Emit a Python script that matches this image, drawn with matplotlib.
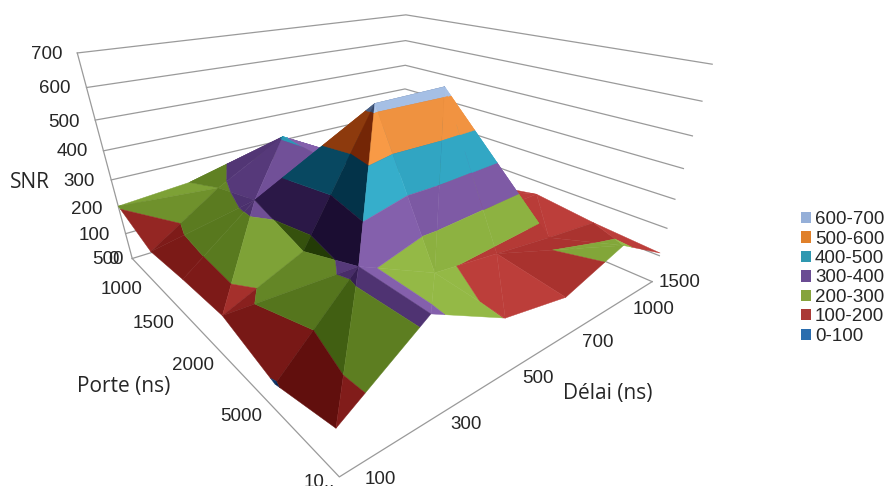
import numpy as np
import matplotlib
matplotlib.use("Agg")
import matplotlib.pyplot as plt
from matplotlib.colors import to_rgb
from matplotlib.patches import Patch
from mpl_toolkits.mplot3d.art3d import Poly3DCollection

porte_labels = ["500", "1000", "1500", "2000", "5000", "10.."]
delai_labels = ["100", "300", "500", "700", "1000", "1500"]
snr_ticks = [0, 100, 200, 300, 400, 500, 600, 700]

# SNR, rows = porte, columns = delai
snr = np.array([
    [205, 225, 250, 200, 150, 110],
    [135, 285, 405, 280, 180, 120],
    [150, 327, 395, 300, 170, 110],
    [158, 260, 620, 625, 150, 150],
    [95, 325, 210, 180, 150, 125],
    [148, 321, 195, 150, 225, 110],
], float)

band_labels = ["0-100", "100-200", "200-300", "300-400", "400-500", "500-600", "600-700"]
band_legend = ["#2A6DAE", "#AA3A36", "#86A33C", "#6A4C93", "#2F98B0", "#E0802A", "#95AFD8"]
band_face = ["#2A6DAE", "#BC3E3A", "#94B946", "#8460AC", "#36AECB", "#F89A46", "#AEC8EE"]

plt.rcParams['font.family'] = ['Liberation Sans', 'DejaVu Sans']

W, H = 893, 486

fig = plt.figure(figsize=(W / 100, H / 100), dpi=100)
ax = fig.add_axes([-35.8 / W, -234.0 / H, 831.7 / W, 831.7 / H], projection='3d')
# the limits are wider than the data: this moves the point the camera looks at
ax.set_xlim(-1.614, 5.484)
ax.set_ylim(5.285, 1.411)
ax.set_zlim(-722.665, 861.285)
ax.view_init(32.3196, -129.7151)
ax.set_proj_type('persp', focal_length=0.1315)
ax.set_box_aspect((1.8462, 1, 1.5879))
ax.set_axis_off()
ax.patch.set_alpha(0)
ax.computed_zorder = False


def clip(poly, level, keep_above):
    out = []
    for i in range(len(poly)):
        a, b = poly[i], poly[(i + 1) % len(poly)]
        ina = a[2] >= level if keep_above else a[2] <= level
        inb = b[2] >= level if keep_above else b[2] <= level
        if ina:
            out.append(a)
        if ina != inb:
            t = (level - a[2]) / (b[2] - a[2])
            out.append(a + t * (b - a))
    return out


def shade(tri):
    u, v = tri[1] - tri[0], tri[2] - tri[0]
    scale = np.array([0.260, -0.258, 0.0010])
    n = np.cross(u * scale, v * scale)
    if n[2] < 0:
        n = -n
    n = n / np.linalg.norm(n)
    light = np.array([0.45, -0.40, 0.80])
    return np.clip(0.26 + 0.90 * max(n @ light, 0), 0.05, 1)


polys, faces = [], []
rgb = [np.array(to_rgb(c)) for c in band_face]
for r in range(snr.shape[0] - 1):
    for c in range(snr.shape[1] - 1):
        p00 = np.array([c, r, snr[r, c]])
        p01 = np.array([c + 1, r, snr[r, c + 1]])
        p10 = np.array([c, r + 1, snr[r + 1, c]])
        p11 = np.array([c + 1, r + 1, snr[r + 1, c + 1]])
        # fold each cell along its higher diagonal
        if p00[2] + p11[2] >= p01[2] + p10[2]:
            tris = ([p00, p01, p11], [p00, p11, p10])
        else:
            tris = ([p00, p01, p10], [p01, p11, p10])
        for tri in tris:
            s = shade(tri)
            for b in range(len(rgb)):
                poly = clip(list(tri), b * 100, True)
                if len(poly) >= 3:
                    poly = clip(poly, (b + 1) * 100, False)
                if len(poly) >= 3:
                    polys.append(np.array(poly))
                    # dark faces also get more saturated, like the reference
                    faces.append(np.clip(rgb[b] ** (1 / s ** 0.7) * s ** 0.6, 0, 1))

surf = Poly3DCollection(polys, facecolors=faces, edgecolors=faces, linewidths=0.3,
                        zsort='average', zorder=3, clip_on=False)
ax.add_collection3d(surf)

# walls and floor, under the surface
grid = dict(color="#9A9A9A", lw=0.9, zorder=1, clip_on=False)
for z in snr_ticks:
    ax.plot([0, 5, 5], [0, 0, 5], [z, z, z], **grid)
ax.plot([0, 0], [0, 0], [0, 700], **grid)
ax.plot([0, 0, 5], [0, 5, 5], [0, 0, 0], **grid)

txt = dict(fontsize=13.5, color="#262626", va='center')
snr_pos = [(119, 260), (110, 235), (102, 209), (95, 181), (88, 152), (80, 122), (71, 88), (62, 54)]
for lab, (x, y) in zip(snr_ticks, snr_pos):
    fig.text(x / W, 1 - y / H, str(lab), ha='right', **txt)
porte_pos = [(124, 260), (143, 289), (175, 323), (214, 365), (262, 416), (335, 482)]
for lab, (x, y) in zip(porte_labels, porte_pos):
    fig.text(x / W, 1 - y / H, lab, ha='right', **txt)
delai_pos = [(365, 479), (450, 424), (522, 378), (582, 342), (633, 309), (659, 282)]
for lab, (x, y) in zip(delai_labels, delai_pos):
    fig.text(x / W, 1 - y / H, lab, ha='left', **txt)

title = dict(fontsize=15, color="#262626", va='center', family=['Open Sans', 'DejaVu Sans'])
fig.text(10 / W, 1 - 183 / H, "SNR", ha='left', **title)
fig.text(77 / W, 1 - 386 / H, "Porte (ns)", ha='left', **title)
fig.text(563 / W, 1 - 394 / H, "Délai (ns)", ha='left', **title)

handles = [Patch(facecolor=c, label=l) for c, l in zip(band_legend[::-1], band_labels[::-1])]
fig.legend(handles=handles, loc='center left', bbox_to_anchor=(801 / W, 1 - 278 / H), frameon=False,
           fontsize=13.5, handlelength=0.55, handleheight=0.55, labelspacing=0.13, handletextpad=0.2,
           borderpad=0, borderaxespad=0, labelcolor="#262626")

fig.savefig('out.png', dpi=100)
